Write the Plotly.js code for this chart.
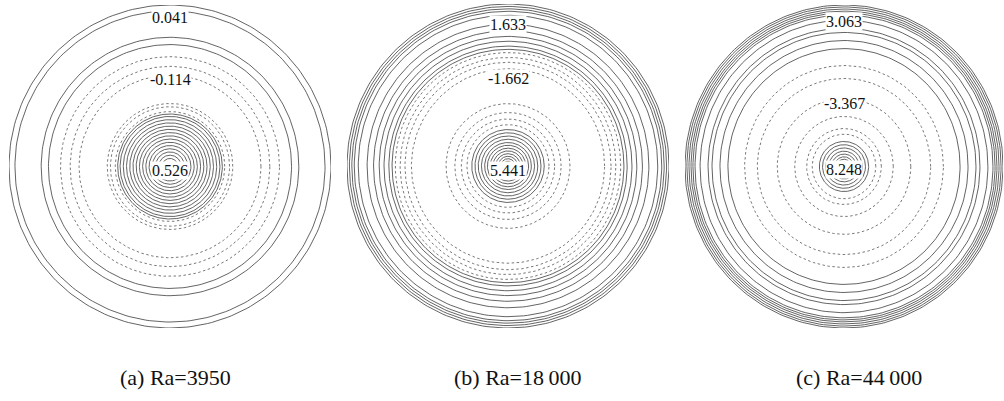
<!DOCTYPE html>
<html>
<head>
<meta charset="utf-8">
<script src="https://cdn.plot.ly/plotly-3.0.1.min.js"></script>
<style>html,body{margin:0;padding:0;background:#fff;}#chart{width:1004px;height:401px;}</style>
</head>
<body>
<div id="chart"></div>
<script>
// Panel captions
const captions = ["(a) Ra=3950", "(b) Ra=18\u2009000", "(c) Ra=44\u2009000"];

// Contour radii (fraction of cylinder radius)
// solid = positive stream-function contours, dashed = negative
const solidA  = [1.0, 0.963, 0.80, 0.755, 0.325, 0.31, 0.29, 0.27, 0.25, 0.23, 0.21, 0.19, 0.17, 0.15, 0.13, 0.11, 0.09, 0.07, 0.05];
const dashedA = [0.68, 0.62, 0.565, 0.39, 0.37, 0.34];
const solidB  = [1.0, 0.985, 0.97, 0.955, 0.93, 0.875, 0.835, 0.80, 0.77, 0.74, 0.72, 0.225, 0.205, 0.185, 0.165, 0.145, 0.128, 0.11, 0.093, 0.076, 0.06, 0.045, 0.03];
const dashedB = [0.70, 0.67, 0.64, 0.60, 0.385, 0.33, 0.29, 0.255];
const solidC  = [1.0, 0.988, 0.975, 0.962, 0.95, 0.937, 0.905, 0.855, 0.83, 0.78, 0.73, 0.155, 0.135, 0.115, 0.095, 0.077, 0.06, 0.045];
const dashedC = [0.625, 0.545, 0.42, 0.31, 0.235, 0.20];

// Contour label values
const labelsA = ["0.041", "-0.114", "0.526"];
const labelsB = ["1.633", "-1.662", "5.441"];
const labelsC = ["3.063", "-3.367", "8.248"];

// ---- presentation config (positions / styles) ----
const W = 1004, H = 401;
const SERIF = "'Liberation Serif', 'Times New Roman', 'DejaVu Serif', serif";
const panels = [
  {solid: solidA, dashed: dashedA, labels: labelsA, labelY: [0.92, 0.54, -0.025], px: [9, 331], py: [5, 328], cap: 175},
  {solid: solidB, dashed: dashedB, labels: labelsB, labelY: [0.875, 0.54, -0.03], px: [347, 669], py: [4, 328], cap: 517},
  {solid: solidC, dashed: dashedC, labels: labelsC, labelY: [0.895, 0.39, -0.02], px: [685, 1003], py: [5, 328], cap: 859}
];

function circlePath(radii) {
  const xs = [], ys = [];
  const N = 240;
  radii.forEach(r => {
    for (let i = 0; i <= N; i++) {
      const t = 2 * Math.PI * i / N;
      xs.push(r * Math.cos(t));
      ys.push(r * Math.sin(t));
    }
    xs.push(null); ys.push(null);
  });
  return {xs, ys};
}

const traces = [];
const layout = {
  width: W, height: H,
  margin: {l: 0, r: 0, t: 0, b: 0},
  paper_bgcolor: '#fff', plot_bgcolor: 'rgba(0,0,0,0)',
  showlegend: false,
  annotations: []
};

panels.forEach((p, i) => {
  const k = i === 0 ? '' : String(i + 1);
  const xa = 'x' + k, ya = 'y' + k;
  const s = circlePath(p.solid);
  const d = circlePath(p.dashed);
  traces.push({type: 'scatter', mode: 'lines', x: s.xs, y: s.ys, xaxis: xa, yaxis: ya,
    line: {color: '#3c3c3c', width: 0.8}, hoverinfo: 'skip', connectgaps: false});
  traces.push({type: 'scatter', mode: 'lines', x: d.xs, y: d.ys, xaxis: xa, yaxis: ya,
    line: {color: '#555555', width: 0.8, dash: '2.5px,2.5px'}, hoverinfo: 'skip', connectgaps: false});
  const ax = {visible: false, range: [-1, 1], showgrid: false, zeroline: false, fixedrange: true};
  layout['xaxis' + k] = Object.assign({}, ax, {domain: [p.px[0] / W, p.px[1] / W], anchor: ya});
  layout['yaxis' + k] = Object.assign({}, ax, {domain: [1 - p.py[1] / H, 1 - p.py[0] / H], anchor: xa});
  p.labels.forEach((t, j) => {
    layout.annotations.push({
      text: t, x: 0, y: p.labelY[j], xref: xa, yref: ya, showarrow: false,
      font: {family: SERIF, size: 16, color: '#111'},
      bgcolor: '#fff', borderpad: 0
    });
  });
  layout.annotations.push({
    text: captions[i], x: p.cap / W, y: 1 - 377 / H, xref: 'paper', yref: 'paper',
    showarrow: false, xanchor: 'center', yanchor: 'middle',
    font: {family: SERIF, size: 22, color: '#111'}
  });
});

Plotly.newPlot('chart', traces, layout, {staticPlot: true, displayModeBar: false});
</script>
</body>
</html>
